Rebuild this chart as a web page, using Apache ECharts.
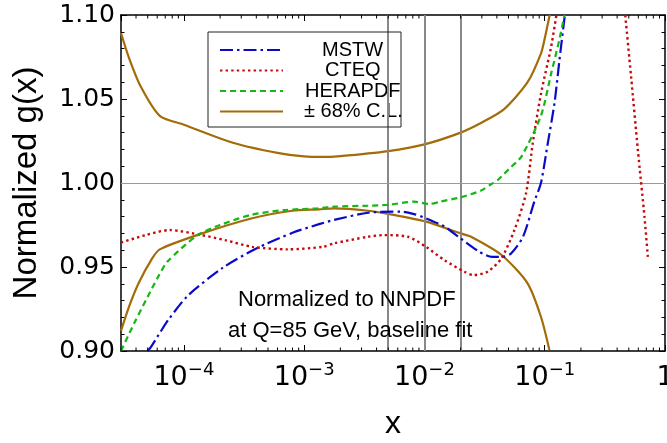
<!DOCTYPE html>
<html>
<head>
<meta charset="utf-8">
<script src="https://cdn.jsdelivr.net/npm/echarts@6/dist/echarts.min.js"></script>
<style>
html,body{margin:0;padding:0;background:#fff;}
#chart{width:667px;height:443px;}
</style>
</head>
<body>
<div id="chart"></div>
<script>
// ---- data (x, normalized g(x)) ----
var mstw = [
  [5.0e-5, 0.900], [5.35e-5, 0.9026], [6.4e-5, 0.9115], [7.5e-5, 0.919], [1.08e-4, 0.933],
  [2.1e-4, 0.9495], [4.0e-4, 0.961], [8.1e-4, 0.9705], [1.33e-3, 0.9755], [1.77e-3, 0.978],
  [3.4e-3, 0.9823], [6.4e-3, 0.983], [8.2e-3, 0.9815], [1.03e-2, 0.979], [1.47e-2, 0.974],
  [2.0e-2, 0.967], [2.8e-2, 0.9595], [3.65e-2, 0.956], [4.6e-2, 0.9562], [5.25e-2, 0.958],
  [6.6e-2, 0.968], [8.2e-2, 0.989], [9.3e-2, 1.000], [0.106, 1.0236], [0.1205, 1.0474],
  [0.1325, 1.073], [0.147, 1.100]
];
var cteqLow = [
  [3.0e-5, 0.9645], [4.8e-5, 0.969], [7.6e-5, 0.972], [1.4e-4, 0.969], [2.2e-4, 0.966],
  [3.7e-4, 0.962], [7.3e-4, 0.9605], [1.43e-3, 0.962], [1.78e-3, 0.9641], [3.4e-3, 0.968],
  [4.6e-3, 0.969], [7.3e-3, 0.968], [1.03e-2, 0.962], [1.47e-2, 0.954], [2.15e-2, 0.9472],
  [2.55e-2, 0.9452], [3.35e-2, 0.9472], [4.35e-2, 0.955], [5.6e-2, 0.972], [7.0e-2, 0.994],
  [7.95e-2, 1.0236], [9.3e-2, 1.053], [0.113, 1.081], [0.125, 1.100]
];
var cteqHigh = [
  [0.467, 1.100], [0.523, 1.063], [0.595, 1.0196], [0.675, 0.980], [0.72, 0.956]
];
var herapdf = [
  [3.0e-5, 0.900], [3.86e-5, 0.9165], [5.0e-5, 0.9323], [6.2e-5, 0.945], [7.3e-5, 0.9532],
  [1.3e-4, 0.969], [2.0e-4, 0.975], [3.6e-4, 0.981], [6.8e-4, 0.9839], [1.29e-3, 0.9849],
  [1.77e-3, 0.9859], [3.4e-3, 0.9865], [5.1e-3, 0.9871], [8.2e-3, 0.9889], [1.1e-2, 0.9875],
  [1.37e-2, 0.989], [2.0e-2, 0.9915], [2.96e-2, 0.9955], [3.6e-2, 0.9994], [4.07e-2, 1.0018],
  [5.25e-2, 1.0095], [6.4e-2, 1.0157], [9.3e-2, 1.040], [0.113, 1.065], [0.132, 1.085],
  [0.146, 1.100]
];
var clUpper = [
  [3.0e-5, 1.0893], [3.5e-5, 1.0744], [4.4e-5, 1.0571], [6.3e-5, 1.040], [1.0e-4, 1.0347],
  [2.6e-4, 1.0238], [6.0e-4, 1.0179], [1.0e-3, 1.0158], [1.4e-3, 1.0155], [2.0e-3, 1.016],
  [5.0e-3, 1.019], [1.0e-2, 1.023], [2.0e-2, 1.030], [3.0e-2, 1.036], [4.6e-2, 1.044],
  [7.2e-2, 1.060], [9.3e-2, 1.077], [0.1, 1.086], [0.11, 1.100]
];
var clLower = [
  [3.0e-5, 0.912], [3.5e-5, 0.9264], [4.2e-5, 0.9403], [5.45e-5, 0.9551], [6.3e-5, 0.9605],
  [1.42e-4, 0.970], [3.7e-4, 0.979], [8.0e-4, 0.9835], [1.33e-3, 0.9843], [1.77e-3, 0.9849],
  [3.4e-3, 0.9835], [5.1e-3, 0.9815], [1.03e-2, 0.977], [2.0e-2, 0.970], [2.44e-2, 0.968],
  [4.4e-2, 0.957], [7.2e-2, 0.9403], [9.3e-2, 0.9204], [0.1094, 0.9006]
];
var seriesNames = ['MSTW', 'CTEQ', 'HERAPDF', '\u00b1 68% C.L.'];
var refLinesX = [0.005, 0.01, 0.02];
var refLineY = 1.0;
var xRange = [3e-5, 1];
var yRange = [0.90, 1.10];
var yInterval = 0.05;
var decades = [1e-5, 1e-4, 1e-3, 1e-2, 1e-1];
var minorMultipliers = [2, 3, 4, 5, 6, 7, 8, 9];
var annotation = ['Normalized to NNPDF', 'at Q=85 GeV, baseline fit'];

// minor tick positions of the log axis
var xMinor = [];
decades.forEach(function (d) {
  minorMultipliers.forEach(function (m) {
    var v = d * m;
    if (v > xRange[0] && v < xRange[1]) xMinor.push([v, yRange[0]]);
  });
});

var FONT = '"Liberation Sans", Arial, sans-serif';
var TICKFONT = '"DejaVu Sans", sans-serif';
var LEGEND_FONT_SIZE = 20;
var C_BLUE = '#0a0ac8', C_RED = '#c40a0a', C_GREEN = '#14b814', C_BROWN = '#a36c08';

// centre legend texts in a 130px slot after the line sample
var measureCtx = document.createElement('canvas').getContext('2d');
measureCtx.font = LEGEND_FONT_SIZE + 'px ' + FONT;
var legendData = seriesNames.map(function (n) {
  var w = measureCtx.measureText(n).width;
  var p = Math.max(0, Math.round(65 - w / 2));
  return {name: n, textStyle: {padding: [0, 0, 0, p]}};
});

var chart = echarts.init(document.getElementById('chart'), null, {renderer: 'canvas'});

function xLabel(v) {
  var e = Math.round(Math.log10(v));
  if (e === 0) return '{b|1}';
  return '{b|10}{s|\u2212' + Math.abs(e) + '}';
}

var baseX = {
  type: 'log', logBase: 10, min: xRange[0], max: xRange[1],
  axisLine: {show: true, lineStyle: {color: '#000', width: 1.5}},
  splitLine: {show: false},
  axisTick: {show: true, inside: true, length: 6, lineStyle: {color: '#000', width: 1}}
};
var baseY = {
  type: 'value', min: yRange[0], max: yRange[1], interval: yInterval,
  axisLine: {show: true, lineStyle: {color: '#000', width: 1.5}},
  splitLine: {show: false},
  axisTick: {show: true, inside: true, length: 6, lineStyle: {color: '#000', width: 1}},
  minorTick: {show: true, splitNumber: 5, length: 3.5, lineStyle: {color: '#000', width: 1}}
};

var lineCommon = {type: 'line', showSymbol: false, symbol: 'none', clip: true, smooth: 0.25, xAxisIndex: 0, yAxisIndex: 0};

var refLineData = refLinesX.map(function (v) {
  return [{coord: [v, yRange[0]], lineStyle: {color: '#888', width: 2, type: 'solid'}}, {coord: [v, yRange[1]]}];
}).concat([{yAxis: refLineY, lineStyle: {color: '#9a9a9a', width: 1, type: 'solid'}}]);

var option = {
  animation: false,
  backgroundColor: '#fff',
  grid: {left: 121, right: 2, top: 15, bottom: 92, containLabel: false, outerBoundsMode: 'none'},
  xAxis: [
    Object.assign({}, baseX, {
      position: 'bottom',
      name: 'x', nameLocation: 'middle', nameGap: 57,
      nameTextStyle: {fontFamily: FONT, fontSize: 32, color: '#000'},
      axisLabel: {
        show: true, margin: 13, showMinLabel: false, formatter: xLabel,
        rich: {
          b: {fontFamily: TICKFONT, fontSize: 27, color: '#000', lineHeight: 28},
          s: {fontFamily: TICKFONT, fontSize: 18, color: '#000', lineHeight: 18, padding: [0, 0, 16, 0]}
        }
      }
    }),
    Object.assign({}, baseX, {position: 'top', axisLabel: {show: false}})
  ],
  yAxis: [
    Object.assign({}, baseY, {
      position: 'left',
      name: 'Normalized g(x)', nameLocation: 'middle', nameGap: 78, nameRotate: 90,
      nameTextStyle: {fontFamily: FONT, fontSize: 33, color: '#000'},
      axisLabel: {show: true, margin: 6, fontFamily: TICKFONT, fontSize: 25, color: '#000',
        formatter: function (v) { return v.toFixed(2); }}
    }),
    Object.assign({}, baseY, {position: 'right', axisLabel: {show: false}})
  ],
  legend: {
    show: true, orient: 'vertical', left: 219, top: 40, padding: 0,
    itemWidth: 63, itemHeight: 14, itemGap: 0.5,
    itemStyle: {opacity: 0},
    data: legendData,
    textStyle: {fontFamily: FONT, fontSize: LEGEND_FONT_SIZE, color: '#000', lineHeight: 20, overflow: 'none'},
    selectedMode: false
  },
  graphic: [
    {type: 'rect', shape: {x: 208, y: 32, width: 193, height: 95}, style: {fill: 'none', stroke: '#222', lineWidth: 1}, z: 50},
    {type: 'text', x: 238, y: 300, style: {text: annotation[0], font: '22px ' + FONT, fill: '#000', verticalAlign: 'middle', align: 'left'}, z: 50},
    {type: 'text', x: 228, y: 331, style: {text: annotation[1], font: '22px ' + FONT, fill: '#000', verticalAlign: 'middle', align: 'left'}, z: 50}
  ],
  series: [
    Object.assign({}, lineCommon, {
      name: seriesNames[0], data: mstw, z: 5,
      lineStyle: {color: C_BLUE, width: 2.2, type: [13, 4, 2.5, 4]}, itemStyle: {color: C_BLUE},
      markLine: {
        silent: true, symbol: ['none', 'none'], label: {show: false}, animation: false,
        data: refLineData
      }
    }),
    Object.assign({}, lineCommon, {
      name: seriesNames[1], data: cteqLow, z: 5,
      lineStyle: {color: C_RED, width: 2.4, type: [2.4, 3.2]}, itemStyle: {color: C_RED}
    }),
    Object.assign({}, lineCommon, {
      name: seriesNames[1], data: cteqHigh, z: 5,
      lineStyle: {color: C_RED, width: 2.4, type: [2.4, 3.2]}, itemStyle: {color: C_RED}
    }),
    Object.assign({}, lineCommon, {
      name: seriesNames[2], data: herapdf, z: 5,
      lineStyle: {color: C_GREEN, width: 2.2, type: [6, 4]}, itemStyle: {color: C_GREEN}
    }),
    Object.assign({}, lineCommon, {
      name: seriesNames[3], data: clUpper, z: 4,
      lineStyle: {color: C_BROWN, width: 2.2, type: 'solid'}, itemStyle: {color: C_BROWN}
    }),
    Object.assign({}, lineCommon, {
      name: seriesNames[3], data: clLower, z: 4,
      lineStyle: {color: C_BROWN, width: 2.2, type: 'solid'}, itemStyle: {color: C_BROWN}
    }),
    {
      type: 'custom', name: 'xminor', silent: true, z: 10, xAxisIndex: 0, yAxisIndex: 0,
      data: xMinor,
      renderItem: function (params, api) {
        var x = api.value(0);
        var pb = api.coord([x, yRange[0]]);
        var pt = api.coord([x, yRange[1]]);
        return {type: 'group', children: [
          {type: 'line', shape: {x1: pb[0], y1: pb[1], x2: pb[0], y2: pb[1] - 3.5}, style: {stroke: '#000', lineWidth: 1}},
          {type: 'line', shape: {x1: pt[0], y1: pt[1], x2: pt[0], y2: pt[1] + 3.5}, style: {stroke: '#000', lineWidth: 1}}
        ]};
      }
    }
  ]
};
chart.setOption(option);
</script>
</body>
</html>
